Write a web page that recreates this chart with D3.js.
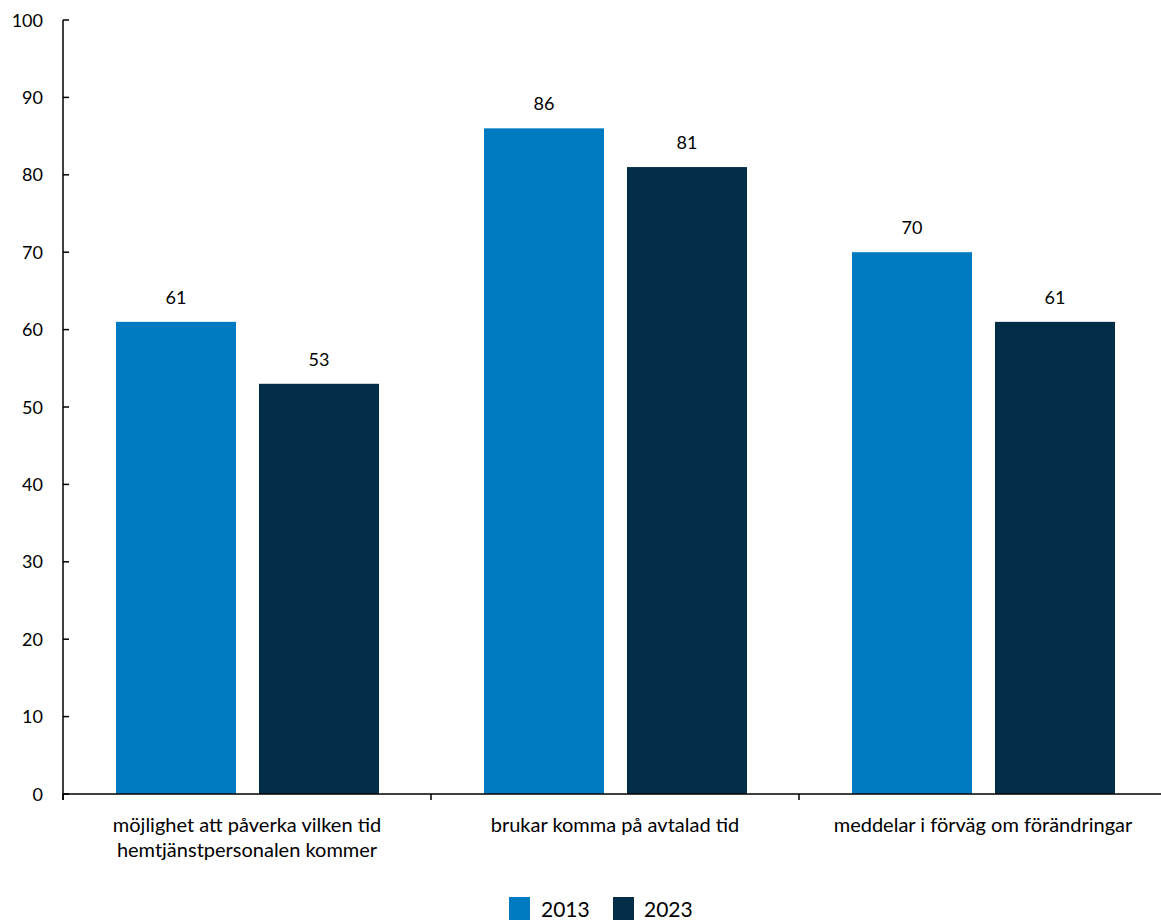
<!DOCTYPE html>
<html><head><meta charset="utf-8">
<script src="https://cdn.jsdelivr.net/npm/d3@7"></script>
<style>body{margin:0;background:#fff;overflow:hidden;} text{font-family:Lato,"Open Sans",sans-serif;fill:#000;}</style>
</head><body>
<svg id="c" width="1161" height="920"></svg>
<script>
const categories = [["möjlighet att påverka vilken tid","hemtjänstpersonalen kommer"],["brukar komma på avtalad tid"],["meddelar i förväg om förändringar"]];
const seriesNames = ["2013","2023"];
const values2013 = [61,86,70];
const values2023 = [53,81,61];
const colors = ["#007ac1","#022d47"];
const yTicks = [0,10,20,30,40,50,60,70,80,90,100];

const svg = d3.select("#c");
const x = d3.scaleBand().domain(d3.range(categories.length)).range([63,1167]);
const y = d3.scaleLinear().domain([0,100]).range([794,20]);
const inner = d3.scaleBand().domain(seriesNames).range([53,316]).paddingInner(23/143);

// y axis
const ya = svg.append("g").attr("transform","translate(63,0)");
ya.append("line").attr("x1",0).attr("x2",0).attr("y1",y(100)).attr("y2",y(0)+6).attr("stroke","#000").attr("stroke-width",1.5);
yTicks.forEach(t=>{
  ya.append("line").attr("x1",0).attr("x2",6).attr("y1",y(t)).attr("y2",y(t)).attr("stroke","#000").attr("stroke-width",1.5);
  ya.append("text").attr("x",-20).attr("y",y(t)+6.5).attr("text-anchor","end").attr("font-size",18).text(t);
});

// bars
const series = [values2013, values2023];
series.forEach((vals,si)=>{
  vals.forEach((v,i)=>{
    const bx = x(i)+inner(seriesNames[si]);
    svg.append("rect").attr("x",bx).attr("y",y(v)).attr("width",inner.bandwidth()).attr("height",y(0)-y(v)).attr("fill",colors[si]);
    svg.append("text").attr("x",bx+inner.bandwidth()/2).attr("y",y(v)-18).attr("text-anchor","middle").attr("font-size",18).text(v);
  });
});

// x axis
svg.append("line").attr("x1",63).attr("x2",1167).attr("y1",y(0)).attr("y2",y(0)).attr("stroke","#000").attr("stroke-width",1.5);
d3.range(categories.length+1).forEach(i=>{
  const xx = i<categories.length ? x(i) : 1167;
  svg.append("line").attr("x1",xx).attr("x2",xx).attr("y1",y(0)).attr("y2",y(0)+6).attr("stroke","#000").attr("stroke-width",1.5);
});
categories.forEach((lines,i)=>{
  const t = svg.append("text").attr("x",x(i)+x.bandwidth()/2).attr("y",832).attr("text-anchor","middle").attr("font-size",20);
  lines.forEach((l,j)=>t.append("tspan").attr("x",x(i)+x.bandwidth()/2).attr("dy",j?25:0).text(l));
});

// legend
const lg = [[509,541],[613,644]];
seriesNames.forEach((s,i)=>{
  svg.append("rect").attr("x",lg[i][0]).attr("y",897).attr("width",21).attr("height",23).attr("fill",colors[i]);
  svg.append("text").attr("x",lg[i][1]).attr("y",917).attr("font-size",21).text(s);
});
</script>
</body></html>
